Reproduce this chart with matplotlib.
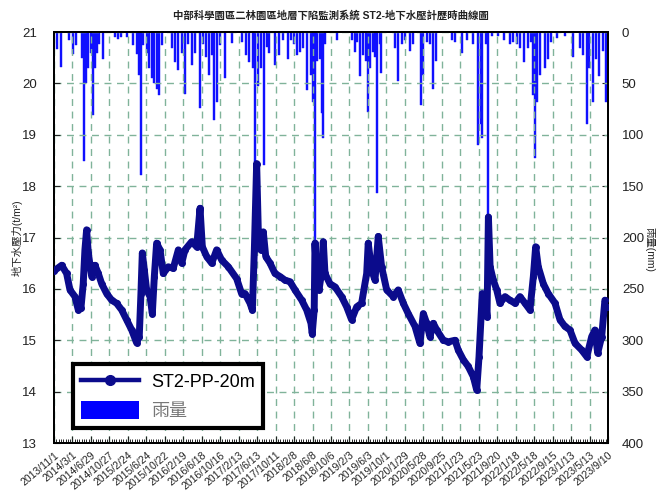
import matplotlib
matplotlib.use("Agg")
import matplotlib.pyplot as plt
import matplotlib.dates as mdates
from matplotlib.lines import Line2D
from matplotlib.patches import Patch
from matplotlib.ticker import FixedLocator, FixedFormatter
import numpy as np
import pandas as pd

plt.rcParams['font.family'] = ['Liberation Sans', 'Noto Sans CJK TC', 'DejaVu Sans']

title = "中部科學園區二林園區地層下陷監測系統 ST2-地下水壓計歷時曲線圖"
series_name = "ST2-PP-20m"
rain_name = "雨量"

tick_labels = ['2013/11/1', '2014/3/1', '2014/6/29', '2014/10/27', '2015/2/24', '2015/6/24',
               '2015/10/22', '2016/2/19', '2016/6/18', '2016/10/16', '2017/2/13', '2017/6/13',
               '2017/10/11', '2018/2/8', '2018/6/8', '2018/10/6', '2019/2/3', '2019/6/3',
               '2019/10/1', '2020/1/29', '2020/5/28', '2020/9/25', '2021/1/23', '2021/5/23',
               '2021/9/20', '2022/1/18', '2022/5/18', '2022/9/15', '2023/1/13', '2023/5/13',
               '2023/9/10']

pp_dates = ['2013-11-01', '2013-12-21', '2014-01-22', '2014-02-13', '2014-03-17', '2014-04-08',
            '2014-04-25', '2014-05-10', '2014-05-21', '2014-06-01', '2014-06-12', '2014-07-04',
            '2014-07-25', '2014-08-16', '2014-09-07', '2014-10-09', '2014-11-11', '2014-12-13',
            '2015-01-15', '2015-02-16', '2015-03-21', '2015-04-22', '2015-05-09', '2015-05-20',
            '2015-05-29', '2015-06-11', '2015-06-26', '2015-07-18', '2015-08-02', '2015-08-15',
            '2015-08-30', '2015-09-21', '2015-10-12', '2015-11-14', '2015-12-16', '2016-01-18',
            '2016-02-09', '2016-03-01', '2016-04-14', '2016-05-16', '2016-06-07', '2016-06-22',
            '2016-07-20', '2016-08-22', '2016-09-23', '2016-10-26', '2016-12-08', '2017-01-31',
            '2017-03-05', '2017-03-26', '2017-04-28', '2017-05-13', '2017-05-26', '2017-06-04',
            '2017-06-10', '2017-06-21', '2017-07-08', '2017-07-23', '2017-08-08', '2017-09-05',
            '2017-10-07', '2017-11-09', '2017-12-11', '2018-01-13', '2018-02-14', '2018-03-30',
            '2018-05-01', '2018-05-29', '2018-06-06', '2018-06-19', '2018-06-24', '2018-07-05',
            '2018-07-20', '2018-08-02', '2018-08-17', '2018-08-28', '2018-09-29', '2018-11-01',
            '2018-12-14', '2019-01-16', '2019-02-17', '2019-03-22', '2019-04-23', '2019-05-26',
            '2019-06-05', '2019-06-27', '2019-07-19', '2019-08-09', '2019-08-31', '2019-10-03',
            '2019-11-15', '2019-12-17', '2020-01-19', '2020-02-20', '2020-04-04', '2020-05-06',
            '2020-05-28', '2020-06-19', '2020-07-10', '2020-08-01', '2020-08-23', '2020-10-05',
            '2020-11-06', '2020-12-20', '2021-01-10', '2021-02-12', '2021-03-16', '2021-04-18',
            '2021-05-10', '2021-05-25', '2021-06-07', '2021-06-15', '2021-07-03', '2021-07-16',
            '2021-07-25', '2021-08-05', '2021-08-26', '2021-09-17', '2021-10-08', '2021-11-10',
            '2021-12-12', '2022-01-14', '2022-02-15', '2022-03-20', '2022-04-21', '2022-05-13',
            '2022-05-28', '2022-06-14', '2022-07-17', '2022-08-18', '2022-10-01', '2022-11-02',
            '2022-12-04', '2023-01-06', '2023-02-08', '2023-03-23', '2023-04-25', '2023-05-27',
            '2023-06-17', '2023-07-05', '2023-07-31', '2023-08-21', '2023-09-08']

pp_values = [16.35, 16.46, 16.30, 15.98, 15.85, 15.59,
             15.62, 16.10, 16.76, 17.15, 16.70, 16.24,
             16.46, 16.30, 16.10, 15.91, 15.78, 15.72,
             15.59, 15.40, 15.20, 14.95, 15.07, 15.91,
             16.70, 16.37, 15.98, 15.85, 15.52, 16.24,
             16.89, 16.76, 16.30, 16.43, 16.40, 16.76,
             16.50, 16.76, 16.92, 16.82, 17.57, 16.82,
             16.63, 16.50, 16.76, 16.56, 16.43, 16.20,
             15.90, 15.91, 15.72, 15.59, 16.76, 17.73,
             18.44, 17.08, 16.76, 17.11, 16.63, 16.50,
             16.30, 16.24, 16.17, 16.14, 15.98, 15.78,
             15.59, 15.33, 15.13, 15.59, 16.89, 16.24,
             15.98, 16.24, 16.92, 16.30, 16.10, 16.04,
             15.85, 15.65, 15.40, 15.65, 15.72, 16.30,
             16.89, 16.37, 16.17, 17.02, 16.43, 15.98,
             15.85, 15.98, 15.72, 15.52, 15.27, 14.94,
             15.52, 15.33, 15.07, 15.33, 15.20, 15.00,
             14.97, 15.00, 14.81, 14.62, 14.49, 14.29,
             14.03, 14.68, 15.46, 15.91, 15.85, 15.46,
             17.40, 16.43, 16.17, 15.98, 15.72, 15.85,
             15.78, 15.72, 15.85, 15.72, 15.59, 16.24,
             16.82, 16.43, 16.10, 15.91, 15.72, 15.40,
             15.27, 15.20, 14.94, 14.81, 14.68, 15.07,
             15.20, 14.75, 15.07, 15.78, 15.65]

rain_dates = ['2013-11-22', '2013-12-15', '2014-02-08', '2014-03-06', '2014-03-24', '2014-04-30',
              '2014-05-12', '2014-05-28', '2014-06-12', '2014-06-27', '2014-07-14', '2014-07-25',
              '2014-08-09', '2014-08-22', '2014-09-17', '2014-12-02', '2014-12-24', '2015-01-10',
              '2015-02-20', '2015-03-31', '2015-04-22', '2015-05-09', '2015-05-19', '2015-06-04',
              '2015-06-26', '2015-07-13', '2015-07-29', '2015-08-13', '2015-08-30', '2015-09-16',
              '2015-10-02', '2015-12-06', '2015-12-27', '2016-01-18', '2016-02-09', '2016-03-01',
              '2016-03-23', '2016-04-14', '2016-05-05', '2016-06-07', '2016-06-28', '2016-07-14',
              '2016-08-06', '2016-08-22', '2016-09-08', '2016-09-23', '2016-10-15', '2016-11-16',
              '2016-12-30', '2017-03-05', '2017-04-02', '2017-04-23', '2017-05-15', '2017-06-02',
              '2017-06-21', '2017-07-08', '2017-07-30', '2017-08-14', '2017-08-31', '2017-10-07',
              '2017-11-04', '2017-11-30', '2018-01-01', '2018-01-17', '2018-02-08', '2018-02-25',
              '2018-03-19', '2018-04-09', '2018-05-01', '2018-05-27', '2018-06-09', '2018-06-24',
              '2018-07-09', '2018-07-26', '2018-08-06', '2018-08-17', '2018-08-28', '2018-11-12',
              '2019-02-17', '2019-03-11', '2019-03-26', '2019-04-12', '2019-05-04', '2019-05-21',
              '2019-06-01', '2019-06-16', '2019-07-04', '2019-07-19', '2019-08-04', '2019-08-20',
              '2019-08-30', '2019-11-26', '2019-12-17', '2020-01-08', '2020-01-30', '2020-03-02',
              '2020-03-24', '2020-05-13', '2020-05-28', '2020-06-19', '2020-07-10', '2020-07-28',
              '2020-08-18', '2020-11-28', '2020-12-20', '2021-02-01', '2021-03-10', '2021-04-18',
              '2021-05-20', '2021-06-05', '2021-06-15', '2021-07-09', '2021-07-24', '2021-08-15',
              '2021-09-27', '2021-11-03', '2021-12-12', '2022-01-03', '2022-01-25', '2022-02-15',
              '2022-03-13', '2022-04-10', '2022-04-26', '2022-05-13', '2022-05-24', '2022-06-08',
              '2022-06-25', '2022-07-27', '2022-08-18', '2022-09-03', '2022-10-12', '2022-12-05',
              '2023-01-24', '2023-03-12', '2023-04-02', '2023-04-24', '2023-05-11', '2023-06-02',
              '2023-06-24', '2023-07-15', '2023-08-06', '2023-08-28']

rain_mm = [17, 34, 8, 21, 13, 25,
           126, 50, 35, 20, 81, 35,
           20, 12, 26, 5, 7, 5,
           5, 13, 21, 42, 139, 13,
           20, 35, 45, 50, 55, 61,
           13, 16, 29, 37, 20, 60,
           12, 32, 20, 74, 12, 24,
           42, 22, 86, 68, 13, 45,
           11, 10, 22, 29, 35, 150,
           53, 35, 129, 15, 20, 32,
           22, 8, 26, 8, 12, 22,
           19, 16, 56, 42, 68, 210,
           28, 26, 79, 103, 12, 8,
           8, 19, 10, 43, 22, 28,
           78, 35, 19, 24, 157, 12,
           40, 16, 48, 12, 8, 18,
           12, 71, 42, 10, 12, 55,
           28, 8, 10, 20, 8, 12,
           110, 90, 103, 12, 180, 4,
           4, 8, 12, 10, 12, 16,
           29, 16, 10, 61, 123, 68,
           42, 35, 26, 10, 6, 4,
           24, 16, 22, 90, 35, 68,
           26, 43, 18, 68]

navy = '#0b0b8c'
rain_blue = '#1010ff'
grid_col = '#80b39a'
txt_col = '#222222'

fig = plt.figure(figsize=(6.56, 4.98), dpi=100)
ax = fig.add_axes([0.0823, 0.1104, 0.8445, 0.8253])
ax2 = ax.twinx()
ax.set_zorder(ax2.get_zorder() + 1)
ax.patch.set_visible(False)

x0 = pd.Timestamp('2013-11-01')
x1 = pd.Timestamp('2023-09-10')

# rain bars hanging from the top (inverted right axis)
ax2.bar(pd.to_datetime(rain_dates), rain_mm, width=13, color=rain_blue,
        edgecolor=rain_blue, linewidth=0.3, align='center')
ax2.set_ylim(400, 0)
ax2.set_yticks(np.arange(0, 401, 50))
ax2.tick_params(axis='y', direction='in', length=4, labelsize=9.5, colors=txt_col, pad=10)
fig.text(0.99, 0.5, "雨量(mm)", rotation=270, fontsize=7.5, color=txt_col,
         ha='center', va='center')

# groundwater pressure line
ax.plot(pd.to_datetime(pp_dates), pp_values, color=navy, lw=5, marker='o', ms=4,
        solid_joinstyle='round', zorder=3)
ax.set_ylim(13, 21)
ax.set_yticks(np.arange(13, 22, 1))
ax.set_xlim(x0, x1)

tick_pos = mdates.date2num(pd.to_datetime(tick_labels))
ax.xaxis.set_major_locator(FixedLocator(tick_pos))
ax.xaxis.set_major_formatter(FixedFormatter(tick_labels))
minor_pos = np.arange(tick_pos[0], tick_pos[-1] + 0.1, 15.0)
ax.xaxis.set_minor_locator(FixedLocator(minor_pos))
ax.tick_params(axis='x', which='major', direction='in', length=5, labelsize=7.5,
               colors=txt_col, pad=5)
ax.tick_params(axis='x', which='minor', direction='in', length=3)
for lab in ax.get_xticklabels():
    lab.set_rotation(40)
    lab.set_ha('right')
    lab.set_rotation_mode('anchor')
ax.tick_params(axis='y', direction='in', length=4, labelsize=9.5, colors=txt_col, pad=12)
ax.set_ylabel("地下水壓力(t/m²)", fontsize=7.5, color=txt_col)
ax.yaxis.set_label_coords(-0.056, 0.5)

ax.grid(True, which='major', axis='both', color=grid_col, linestyle=(0, (5, 4)), linewidth=1.0)
ax.set_axisbelow(True)

for a in (ax, ax2):
    for s in a.spines.values():
        s.set_linewidth(1.4)
        s.set_color('black')

fig.text(0.505, 0.968, title, ha='center', va='center', fontsize=7.5, fontweight='bold',
         color=txt_col)

handles = [Line2D([0], [0], color=navy, lw=3.2, marker='o', ms=7),
           Patch(facecolor='#0000ff', edgecolor='none')]
leg = ax.legend(handles, [series_name, rain_name], loc='lower left',
                bbox_to_anchor=(0.034, 0.036), borderaxespad=0, fontsize=13,
                handlelength=3.2, handleheight=1.1, handletextpad=0.7, borderpad=0.45,
                labelspacing=0.55, fancybox=False, framealpha=1)
leg.get_frame().set_edgecolor('black')
leg.get_frame().set_linewidth(3)
leg.get_texts()[1].set_color('#777777')

fig.savefig('out.png', dpi=100)
